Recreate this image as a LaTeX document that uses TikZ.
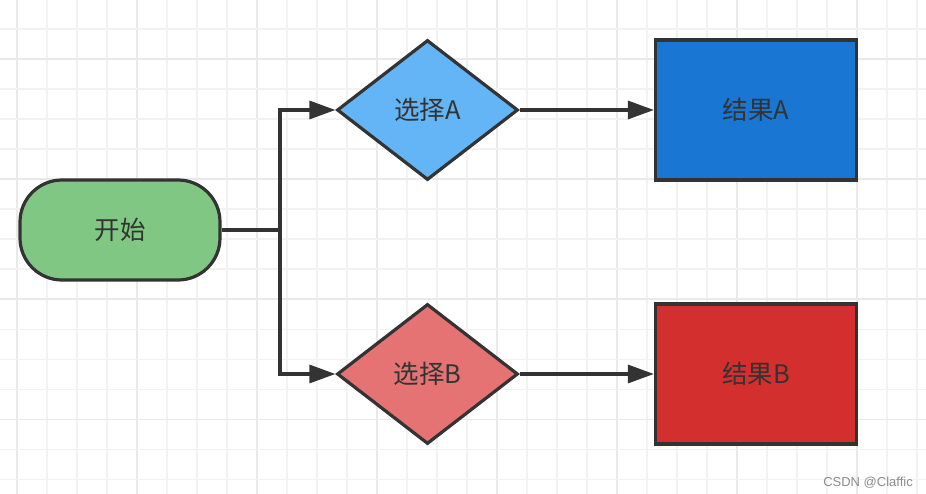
\documentclass[tikz,border=0pt]{standalone}
\usepackage{fontspec}
\setmainfont{Noto Sans CJK SC}
\newfontfamily\wmfont{Liberation Sans}
\usetikzlibrary{shapes.geometric,arrows.meta}
\definecolor{strokec}{HTML}{333333}
\definecolor{greenf}{HTML}{81C784}
\definecolor{blueL}{HTML}{64B5F6}
\definecolor{redL}{HTML}{E57373}
\definecolor{blueD}{HTML}{1976D2}
\definecolor{redD}{HTML}{D32F2F}
\definecolor{gridminor}{HTML}{F2F2F2}
\definecolor{gridmajor}{HTML}{E9E9E9}
\tikzset{
  base/.style={draw=strokec, line width=3.2pt, text=strokec, font=\fontsize{25.5pt}{28pt}\selectfont, inner sep=0pt},
  startbox/.style={base, rectangle, rounded corners=42pt, minimum width=200pt, minimum height=100pt},
  choicebox/.style={base, diamond, minimum width=181pt, minimum height=140pt},
  resultbox/.style={base, rectangle, minimum width=201pt, minimum height=140pt},
  conn/.style={draw=strokec, line width=3.2pt},
  arr/.style={conn, -{Triangle[length=26pt,width=18pt]}},
}
\begin{document}
\begin{tikzpicture}[x=1pt,y=-1pt]
\useasboundingbox (0,0) rectangle (926,494);
\fill[white] (0,0) rectangle (926,494);
% grid
\foreach \i in {0,...,30} {
  \pgfmathsetmacro{\xx}{16.7+30*\i}
  \pgfmathtruncatemacro{\mm}{mod(\i,4)}
  \ifnum\mm=0
    \draw[gridmajor, line width=1.6pt] (\xx,0) -- (\xx,494);
  \else
    \draw[gridminor, line width=1.6pt] (\xx,0) -- (\xx,494);
  \fi
}
\foreach \j in {0,...,16} {
  \pgfmathsetmacro{\yy}{29.3+30*\j}
  \pgfmathtruncatemacro{\mm}{mod(\j+3,4)}
  \ifnum\mm=0
    \draw[gridmajor, line width=1.6pt] (0,\yy) -- (926,\yy);
  \else
    \draw[gridminor, line width=1.6pt] (0,\yy) -- (926,\yy);
  \fi
}
% nodes
\node[startbox, fill=greenf] (start) at (120,230) {开始};
\node[choicebox, fill=blueL] (ca) at (427.5,110) {选择A};
\node[choicebox, fill=redL] (cb) at (427.5,374) {选择B};
\node[resultbox, fill=blueD] (ra) at (756,110) {结果A};
\node[resultbox, fill=redD] (rb) at (756,374) {结果B};
\coordinate (split) at (280,230);
% connectors
\draw[conn] (start.east) -- (split);
\draw[arr] (split) |- (ca.west);
\draw[arr] (split) |- (cb.west);
\draw[arr] (ca.east) -- (ra.west);
\draw[arr] (cb.east) -- (rb.west);
% watermark
\node[anchor=base east, text=black!45, inner sep=0pt, font=\wmfont\fontsize{13pt}{15pt}\selectfont] (wm) at (913,486) {CSDN @Claffic};
\end{tikzpicture}
\end{document}
